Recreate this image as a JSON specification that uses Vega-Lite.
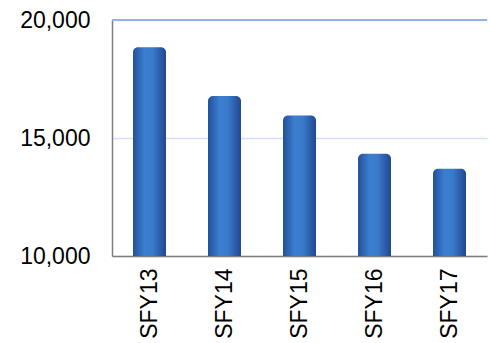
{
  "$schema": "https://vega.github.io/schema/vega-lite/v6.json",
  "autosize": "none",
  "width": 375,
  "height": 236,
  "padding": {"left": 112, "top": 20, "right": 3, "bottom": 87},
  "background": "white",
  "config": {"view": {"stroke": null}, "font": "Liberation Sans"},
  "data": {"values": [
    {"year": "SFY13", "value": 18850},
    {"year": "SFY14", "value": 16780},
    {"year": "SFY15", "value": 15950},
    {"year": "SFY16", "value": 14330},
    {"year": "SFY17", "value": 13700}
  ]},
  "layer": [
    {
      "mark": {
        "type": "bar",
        "cornerRadiusTopLeft": 5,
        "cornerRadiusTopRight": 5,
        "color": {
          "gradient": "linear", "x1": 0, "x2": 1, "y1": 0, "y2": 0,
          "stops": [
            {"offset": 0, "color": "#24509a"},
            {"offset": 0.35, "color": "#3b7fd0"},
            {"offset": 0.6, "color": "#3a7acb"},
            {"offset": 1, "color": "#22488f"}
          ]
        }
      },
      "encoding": {
        "x": {
          "field": "year", "type": "nominal", "sort": null,
          "scale": {"paddingInner": 0.56, "paddingOuter": 0.28},
          "axis": {
            "title": null, "labelAngle": -90, "labelFontSize": 23, "labelColor": "#000000",
            "labelPadding": 12, "ticks": false, "domainColor": "#7f7f7f", "domainWidth": 1.5
          }
        },
        "y": {
          "field": "value", "type": "quantitative",
          "scale": {"domain": [10000, 20000], "nice": false, "zero": false},
          "axis": {
            "title": null, "values": [10000, 15000, 20000], "format": ",d",
            "labelFontSize": 23, "labelColor": "#000000", "labelPadding": 22, "ticks": false,
            "domainColor": "#7f7f7f", "domainWidth": 1.5,
            "grid": true, "gridColor": "#d3e0f5", "gridWidth": 1.5
          }
        },
        "y2": {"datum": 10000}
      }
    },
    {
      "mark": {"type": "rule", "color": "#98b2e6", "strokeWidth": 2},
      "encoding": {"y": {"datum": 20000}}
    }
  ]
}
